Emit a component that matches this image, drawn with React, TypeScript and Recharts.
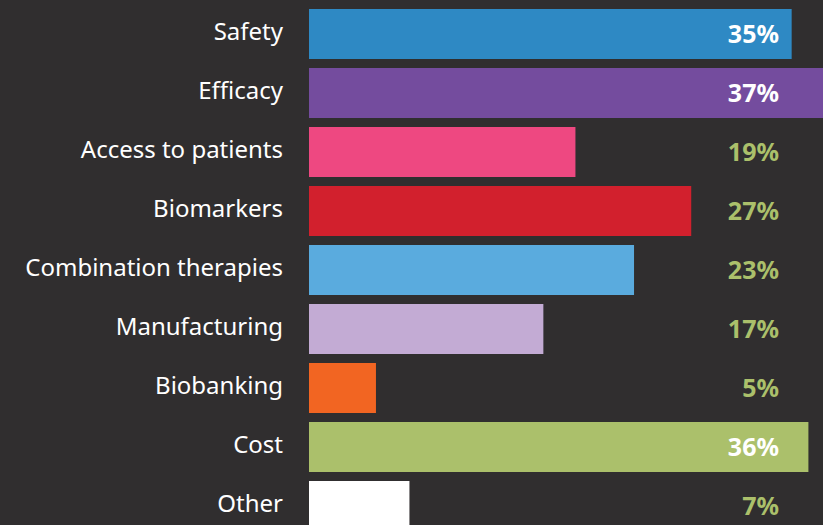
import { BarChart, Bar, XAxis, YAxis, Cell, LabelList } from 'recharts';

// categories, top to bottom
const categories = [
  'Safety',
  'Efficacy',
  'Access to patients',
  'Biomarkers',
  'Combination therapies',
  'Manufacturing',
  'Biobanking',
  'Cost',
  'Other',
];

// share of respondents (%)
const values = [34.6, 37.2, 19.1, 27.4, 23.3, 16.8, 4.8, 35.8, 7.2];

const barColors = [
  '#2e89c4',
  '#744c9e',
  '#ee4881',
  '#d2202d',
  '#5aabde',
  '#c3abd4',
  '#f26522',
  '#abc06b',
  '#ffffff',
];

const BG = '#302e2f';
const GREEN = '#abc06b';

const data = categories.map((name, i) => ({
  name,
  value: values[i],
  color: barColors[i],
}));

// value labels sit in one column on the right; white when the bar runs under them
const ValueLabel = (props: any) => {
  const { x, y, height, value } = props;
  const onBar = value > 30;
  return (
    <text
      x={x + 470}
      y={y + height / 2 - 1}
      textAnchor="end"
      dominantBaseline="central"
      fill={onBar ? '#ffffff' : GREEN}
      fontSize={25}
      fontWeight={700}
      fontFamily="'Noto Sans', sans-serif"
    >
      {Math.round(value)}%
    </text>
  );
};

export default function App() {
  return (
    <div
      style={{
        position: 'absolute',
        top: 0,
        left: 0,
        width: 823,
        height: 525,
        overflow: 'hidden',
        background: BG,
      }}
    >
      <BarChart
        width={867}
        height={540}
        data={data}
        layout="vertical"
        margin={{ top: 4, right: 0, bottom: 5, left: 0 }}
      >
        <XAxis type="number" domain={[0, 40]} hide />
        <YAxis
          type="category"
          dataKey="name"
          width={309}
          axisLine={false}
          tickLine={false}
          tickSize={0}
          tickMargin={26}
          interval={0}
          tick={{
            fill: '#ffffff',
            fontSize: 24,
            dy: -2,
            fontFamily: "'Noto Sans', sans-serif",
          }}
        />
        <Bar dataKey="value" barSize={50} isAnimationActive={false}>
          {data.map((d) => (
            <Cell key={d.name} fill={d.color} />
          ))}
          <LabelList dataKey="value" content={ValueLabel} />
        </Bar>
      </BarChart>
    </div>
  );
}
